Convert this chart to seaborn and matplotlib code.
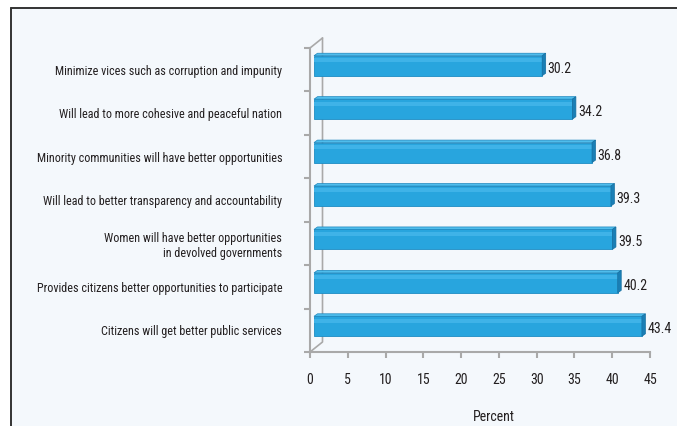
import matplotlib
matplotlib.use("Agg")
import matplotlib.pyplot as plt
import seaborn as sns
import pandas as pd
from matplotlib import font_manager
from matplotlib.patches import Polygon, Rectangle
from matplotlib.lines import Line2D
from matplotlib.transforms import offset_copy

# Survey responses: perceived benefits of devolution
benefits = [
    "Minimize vices such as corruption and impunity",
    "Will lead to more cohesive and peaceful nation",
    "Minority communities will have better opportunities",
    "Will lead to better transparency and accountability",
    "Women will have better opportunities\nin devolved governments",
    "Provides citizens better opportunities to participate",
    "Citizens will get better public services",
]
percent = [30.2, 34.2, 36.8, 39.3, 39.5, 40.2, 43.4]
x_ticks = [0, 5, 10, 15, 20, 25, 30, 35, 40, 45]
x_label = "Percent"

sns.set_theme(style="white")

# pick a narrow face if one is installed
installed = {f.name for f in font_manager.fontManager.ttflist}
narrow = [n for n in ("Liberation Sans Narrow", "Roboto Condensed", "Open Sans Condensed",
                      "DejaVu Sans Condensed") if n in installed]
FONT = narrow[:1] + ["DejaVu Sans"]
plt.rcParams["font.family"] = FONT
TXT = "#231f20"
AX_GRAY = "#a9a9a9"

W, H = 677, 426
fig = plt.figure(figsize=(W / 100, H / 100), dpi=100, facecolor="white")

# panel background with dark frame on top and left
fig.patches.append(Rectangle((10 / W, 0), 1 - 10 / W, 1 - 7.5 / H, transform=fig.transFigure,
                             facecolor="#f4f8fc", edgecolor="none", zorder=-5))
fig.lines.append(Line2D([10.5 / W, 1], [1 - 7.5 / H, 1 - 7.5 / H], transform=fig.transFigure,
                        color="#333333", lw=1.4, zorder=-4))
fig.lines.append(Line2D([10.5 / W, 10.5 / W], [0, 1 - 7.5 / H], transform=fig.transFigure,
                        color="#333333", lw=1.4, zorder=-4))

ax_l, ax_r, ax_t, ax_b = 310, 650, 48, 352
ax = fig.add_axes([ax_l / W, 1 - ax_b / H, (ax_r - ax_l) / W, (ax_b - ax_t) / H])
ax.set_facecolor("none")

df = pd.DataFrame({"benefit": benefits, "percent": percent})
sns.barplot(data=df, x="percent", y="benefit", orient="h", color="#28a5de",
            width=0.46, saturation=1, edgecolor="#1d8cc3", linewidth=0.6, ax=ax, zorder=3)

ax.set_xlim(0, 45)
ax.set_ylim(6.5, -0.5)
px_x = 45 / (ax_r - ax_l)          # data units per pixel (x)
px_y = 7 / (ax_b - ax_t)           # data units per pixel (y)

fs = 8.7 if narrow else 7.5        # category labels
fs_num = 10 if narrow else 8.5     # numbers and axis title

# bars sit halfway into the 3D depth: shifted right/up from the front axes
depth_tr = offset_copy(ax.transData, fig=fig, x=4, y=4, units="dots")
label_tr = offset_copy(ax.transData, fig=fig, x=4, y=1, units="dots")

# 3D depth on every bar: top face and right end cap
ddx, ddy = 3.5 * px_x, 2.5 * px_y
for bar in ax.patches[:len(percent)]:
    bar.set_transform(depth_tr)
    x0, y0 = bar.get_x(), bar.get_y()
    w, h = bar.get_width(), bar.get_height()
    top = y0  # inverted axis: smaller y is visually higher
    ax.add_patch(Polygon([(x0, top), (x0 + w, top), (x0 + w + ddx, top - ddy), (x0 + ddx, top - ddy)],
                         closed=True, facecolor="#4fbdec", edgecolor="#1c86bd", lw=0.5, zorder=4,
                         transform=depth_tr))
    ax.add_patch(Polygon([(x0 + w, top), (x0 + w + ddx, top - ddy), (x0 + w + ddx, top + h - ddy),
                          (x0 + w, top + h)],
                         closed=True, facecolor="#1a7fb6", edgecolor="#176f9f", lw=0.5, zorder=4,
                         transform=depth_tr))
    # soft highlight band near the top of the front face
    ax.add_patch(Rectangle((x0, top + 0.12 * h), w, 0.2 * h, facecolor="#3fb3e8",
                           edgecolor="none", zorder=3.5, transform=depth_tr))
    ax.text(x0 + w + ddx + 2 * px_x, top + h / 2, f"{w:.1f}", ha="left", va="center",
            fontsize=fs_num, color=TXT, family=FONT, zorder=5, transform=label_tr)

# 3D wall outline
dx_w, dy_w = 12.5 * px_x, 10 * px_y
wall = dict(color=AX_GRAY, lw=1.2, clip_on=False, zorder=2)
ax.plot([0, dx_w], [-0.5, -0.5 - dy_w], **wall)
ax.plot([dx_w, dx_w, 0], [-0.5 - dy_w, 6.5 - dy_w, 6.5], **wall)

for side in ["top", "right"]:
    ax.spines[side].set_visible(False)
for side in ["left", "bottom"]:
    ax.spines[side].set_color(AX_GRAY)
    ax.spines[side].set_linewidth(1.5)

ax.set_xticks(x_ticks)
ax.set_xticklabels([str(t) for t in x_ticks], fontsize=fs_num, color=TXT, family=FONT)
ax.tick_params(axis="x", which="major", direction="out", length=4, width=1.5,
               color=AX_GRAY, pad=11, bottom=True)
ax.set_yticks(range(len(benefits)))
ax.set_yticklabels(benefits, fontsize=fs, color=TXT, family=FONT, linespacing=1.2)
ax.tick_params(axis="y", which="major", length=0, pad=20, left=False)
ax.set_yticks([i - 0.5 for i in range(len(benefits) + 1)], minor=True)
ax.tick_params(axis="y", which="minor", direction="out", length=4, width=1.5,
               color=AX_GRAY, left=True)

ax.set_xlabel(x_label, fontsize=fs_num, color=TXT, family=FONT)
ax.xaxis.set_label_coords(0.541, -0.19)
ax.set_ylabel("")
ax.grid(False)

fig.savefig("out.png", dpi=100, facecolor="white")
